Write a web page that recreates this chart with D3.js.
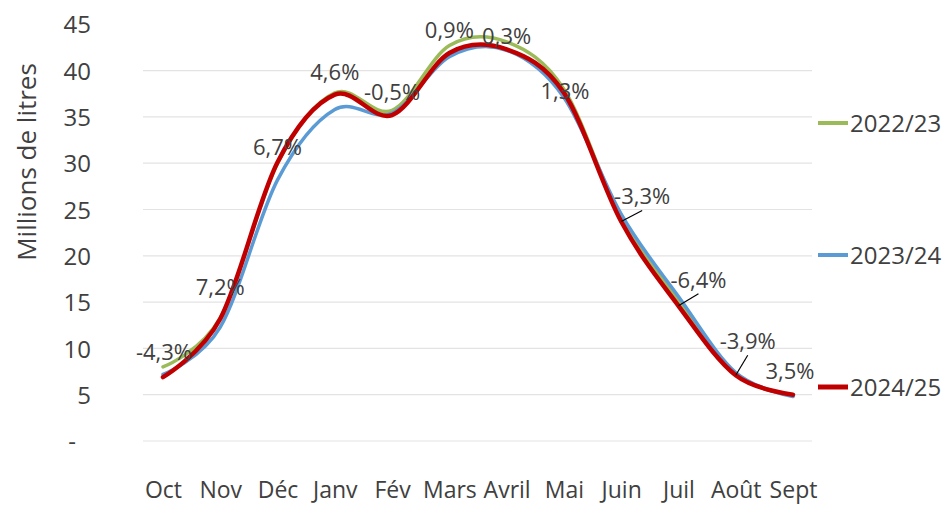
<!DOCTYPE html>
<html>
<head>
<meta charset="utf-8">
<script src="https://cdn.jsdelivr.net/npm/d3@7"></script>
<style>
  html, body { margin: 0; padding: 0; background: #fff; }
  text { font-family: "Open Sans", "DejaVu Sans", sans-serif; fill: #404040; }
</style>
</head>
<body>
<svg id="chart" width="949" height="506"></svg>
<script>
// ---- data ----
const months = ["Oct","Nov","Déc","Janv","Fév","Mars","Avril","Mai","Juin","Juil","Août","Sept"];
const s2022 = [8.0, 13.3, 30.0, 37.6, 35.7, 42.7, 43.1, 38.0, 24.0, 15.2, 7.2, 4.9];
const s2023 = [7.2, 12.3, 28.2, 35.8, 35.4, 41.5, 42.2, 37.1, 24.5, 15.6, 7.4, 4.8];
const s2024 = [6.9, 13.2, 30.1, 37.4, 35.2, 41.9, 42.3, 37.6, 23.7, 14.6, 7.1, 5.0];
const pctLabels = ["-4,3%","7,2%","6,7%","4,6%","-0,5%","0,9%","0,3%","1,3%","-3,3%","-6,4%","-3,9%","3,5%"];
const yTicks = [0,5,10,15,20,25,30,35,40,45];
const seriesNames = ["2022/23","2023/24","2024/25"];

// ---- layout / style ----
const colors = ["#9BBB59","#5B9BD5","#C00000"];
const widths = [3.5, 3.5, 4.5];
// label offsets relative to the 2024/25 point (dx, dy) and whether a leader line is drawn
const labelDx = [1, 0, 0, 0, 0, 0, 0, 1, 21, 20, 12, -3];
const labelDy = [-25, -32, -15, -23, -23, -23, -13, -2, -25, -26, -34, -24];
const leader  = [false,false,false,false,false,false,false,false,true,true,true,false];

const svg = d3.select("#chart");
const x = d3.scalePoint().domain(months).range([163, 793]);
const y = d3.scaleLinear().domain([0, 45]).range([441, 24.3]);
const gridX0 = 143, gridX1 = 812;

// gridlines
svg.append("g").selectAll("line")
  .data(yTicks.filter(d => d <= 40))
  .join("line")
  .attr("x1", gridX0).attr("x2", gridX1)
  .attr("y1", d => y(d)).attr("y2", d => y(d))
  .attr("stroke", "#e3e3e3").attr("stroke-width", 1.2);

// y axis labels
const yAxis = d3.axisLeft(y).tickValues(yTicks).tickSize(0).tickPadding(0)
  .tickFormat(d => d === 0 ? "-" : d);
const gy = svg.append("g").attr("transform", "translate(91,0)").call(yAxis);
gy.select(".domain").remove();
gy.selectAll("text").attr("font-size", 24).attr("font-family", "Open Sans, sans-serif")
  .attr("fill", "#404040").attr("dy", "0.36em")
  .attr("x", d => d === 0 ? -15 : 0);

// x axis labels
const xAxis = d3.axisBottom(x).tickSize(0).tickPadding(0);
const gx = svg.append("g").attr("transform", "translate(0,477)").call(xAxis);
gx.select(".domain").remove();
gx.selectAll("text").attr("font-size", 23).attr("font-family", "Open Sans, sans-serif")
  .attr("fill", "#404040").attr("dy", "0.9em");

// axis title
svg.append("text")
  .attr("transform", `translate(36,162) rotate(-90)`)
  .attr("text-anchor", "middle")
  .attr("font-size", 26)
  .text("Millions de litres");

// lines
const line = d3.line()
  .x((d, i) => x(months[i]))
  .y(d => y(d))
  .curve(d3.curveCardinal.tension(0));
const allSeries = [s2022, s2023, s2024];
svg.append("g").selectAll("path")
  .data(allSeries)
  .join("path")
  .attr("d", d => line(d))
  .attr("fill", "none")
  .attr("stroke", (d, i) => colors[i])
  .attr("stroke-width", (d, i) => widths[i])
  .attr("stroke-linecap", "round")
  .attr("stroke-linejoin", "round");

// data labels + leader lines
const lbl = svg.append("g");
months.forEach((m, i) => {
  const px = x(m), py = y(s2024[i]);
  const lx = px + labelDx[i], ly = py + labelDy[i];
  if (leader[i]) {
    lbl.append("line")
      .attr("x1", px).attr("y1", py)
      .attr("x2", lx).attr("y2", ly + 14)
      .attr("stroke", "#000").attr("stroke-width", 1.2);
  }
  lbl.append("text")
    .attr("x", lx).attr("y", ly)
    .attr("dy", "0.36em")
    .attr("text-anchor", "middle")
    .attr("font-size", 22)
    .text(pctLabels[i]);
});

// legend
const legendY = [123, 255, 387];
const lg = svg.append("g");
seriesNames.forEach((n, i) => {
  lg.append("line")
    .attr("x1", 818).attr("x2", 848)
    .attr("y1", legendY[i]).attr("y2", legendY[i])
    .attr("stroke", colors[i]).attr("stroke-width", widths[i] + 0.5);
  lg.append("text")
    .attr("x", 850).attr("y", legendY[i])
    .attr("dy", "0.36em")
    .attr("font-size", 24)
    .text(n);
});
</script>
</body>
</html>
